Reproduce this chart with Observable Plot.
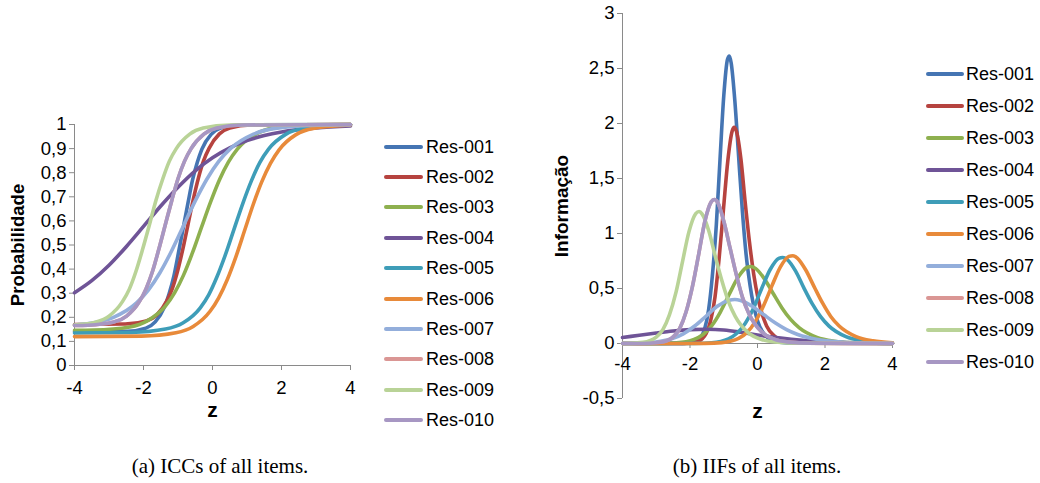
<!DOCTYPE html>
<html><head><meta charset="utf-8">
<script src="https://cdn.jsdelivr.net/npm/d3@7"></script>
<script src="https://cdn.jsdelivr.net/npm/@observablehq/plot@0.6"></script>
<style>
html,body{margin:0;padding:0;background:#fff;}
#fig{position:relative;width:1040px;height:483px;overflow:hidden;background:#fff;font-family:"Liberation Sans",Arial,sans-serif;color:#000;}
.pl{position:absolute;top:0;}
.sw{position:absolute;height:4px;border-radius:2px;}
.lt{position:absolute;font-size:18px;transform:translateY(-50%);white-space:nowrap;line-height:normal;}
.cap{position:absolute;font-family:"Liberation Serif","Times New Roman",serif;font-size:21px;transform:translate(-50%,-50%);white-space:nowrap;}
</style></head><body><div id="fig"></div>
<script>
// ---- data ----
const items = ["Res-001","Res-002","Res-003","Res-004","Res-005","Res-006","Res-007","Res-008","Res-009","Res-010"];
const colors = ["#4575B3","#B6433F","#8EB04F","#6F5497","#3E9DB8","#E88A3A","#93AEDB","#DA9694","#B9D397","#A797C3"];

const zTicks = [-4, -2, 0, 2, 4];
const zLabels = ["-4", "-2", "0", "2", "4"];
const iccYTicks = [0, 0.1, 0.2, 0.3, 0.4, 0.5, 0.6, 0.7, 0.8, 0.9, 1];
const iccYLabels = ["0", "0,1", "0,2", "0,3", "0,4", "0,5", "0,6", "0,7", "0,8", "0,9", "1"];
const iifYTicks = [-0.5, 0, 0.5, 1, 1.5, 2, 2.5, 3];
const iifYLabels = ["-0,5", "0", "0,5", "1", "1,5", "2", "2,5", "3"];

// ICC (probability) curves: z positions and probabilities
const icc001z = [-4, -2.47, -1.93, -1.66, -1.39, -1.26, -1.12, -0.99, -0.85, -0.71, -0.58, -0.44, -0.31, -0.04, 0.23, 0.77, 4];
const icc001p = [0.14, 0.142, 0.155, 0.181, 0.243, 0.297, 0.371, 0.465, 0.57, 0.675, 0.769, 0.843, 0.897, 0.959, 0.985, 0.998, 1];
const icc002z = [-4, -2.53, -1.92, -1.62, -1.32, -1.16, -1.01, -0.86, -0.71, -0.56, -0.41, -0.26, -0.10, 0.20, 0.50, 1.11, 4];
const icc002p = [0.17, 0.172, 0.185, 0.209, 0.269, 0.321, 0.393, 0.483, 0.585, 0.687, 0.777, 0.849, 0.901, 0.961, 0.985, 0.998, 1];
const icc003z = [-4, -3.44, -2.40, -1.88, -1.36, -1.10, -0.84, -0.58, -0.32, -0.06, 0.20, 0.46, 0.72, 1.24, 1.76, 2.80, 4];
const icc003p = [0.146, 0.147, 0.160, 0.186, 0.247, 0.301, 0.375, 0.468, 0.573, 0.677, 0.770, 0.844, 0.898, 0.959, 0.985, 0.998, 1];
const icc004z = [-4, -3.5, -3, -2.5, -2, -1.5, -1, -0.5, 0, 0.5, 1, 1.5, 2, 3, 4];
const icc004p = [0.302, 0.352, 0.416, 0.493, 0.577, 0.662, 0.740, 0.808, 0.862, 0.903, 0.933, 0.954, 0.969, 0.986, 0.994];
const icc005z = [-4, -2.35, -1.36, -0.86, -0.36, -0.11, 0.13, 0.38, 0.63, 0.88, 1.13, 1.37, 1.62, 2.12, 2.62, 3.61, 4];
const icc005p = [0.135, 0.137, 0.151, 0.176, 0.238, 0.293, 0.368, 0.462, 0.568, 0.673, 0.767, 0.842, 0.897, 0.959, 0.984, 0.998, 0.999];
const icc006z = [-4, -2.06, -1.06, -0.56, -0.07, 0.18, 0.43, 0.68, 0.93, 1.18, 1.43, 1.68, 1.93, 2.42, 2.92, 4];
const icc006p = [0.12, 0.122, 0.136, 0.162, 0.225, 0.281, 0.357, 0.452, 0.56, 0.668, 0.763, 0.839, 0.895, 0.958, 0.984, 0.998];
const icc007z = [-4, -3.55, -2.87, -2.20, -1.86, -1.52, -1.18, -0.84, -0.50, -0.16, 0.18, 0.52, 1.19, 1.87, 3.23, 4];
const icc007p = [0.168, 0.175, 0.200, 0.260, 0.313, 0.386, 0.477, 0.58, 0.683, 0.774, 0.847, 0.900, 0.960, 0.985, 0.998, 0.999];
const icc008z = [-4, -3.61, -2.86, -2.49, -2.12, -1.93, -1.74, -1.56, -1.37, -1.18, -1.00, -0.81, -0.62, -0.25, 0.12, 0.87, 4];
const icc008p = [0.166, 0.167, 0.180, 0.205, 0.265, 0.317, 0.390, 0.480, 0.583, 0.685, 0.775, 0.848, 0.900, 0.960, 0.985, 0.998, 1];
const icc009z = [-4, -3.78, -3.39, -3.00, -2.61, -2.41, -2.22, -2.03, -1.83, -1.64, -1.44, -1.25, -1.05, -0.66, -0.27, 0.51, 4];
const icc009p = [0.168, 0.171, 0.180, 0.205, 0.265, 0.317, 0.390, 0.480, 0.583, 0.685, 0.775, 0.848, 0.900, 0.960, 0.985, 0.998, 1];
const icc010z = [-4, -3.61, -2.86, -2.49, -2.12, -1.93, -1.74, -1.56, -1.37, -1.18, -1.00, -0.81, -0.62, -0.25, 0.12, 0.87, 4];
const icc010p = [0.166, 0.167, 0.180, 0.205, 0.265, 0.317, 0.390, 0.480, 0.583, 0.685, 0.775, 0.848, 0.900, 0.960, 0.985, 0.998, 1];

// IIF (information) curves: z positions and information values
const iif001z = [-4, -2.22, -2.00, -1.78, -1.56, -1.45, -1.34, -1.22, -1.11, -1.00, -0.89, -0.835, -0.78, -0.67, -0.56, -0.45, -0.34, -0.22, 0.00, 0.22, 0.44, 0.89, 4];
const iif001i = [0, 0.001, 0.004, 0.024, 0.140, 0.305, 0.608, 1.079, 1.677, 2.248, 2.582, 2.613, 2.550, 2.201, 1.703, 1.213, 0.816, 0.528, 0.207, 0.078, 0.029, 0.004, 0];
const iif002z = [-4, -2.29, -2.03, -1.78, -1.52, -1.39, -1.26, -1.14, -1.01, -0.88, -0.75, -0.69, -0.62, -0.49, -0.37, -0.24, -0.11, 0.02, 0.27, 0.53, 0.79, 1.30, 4];
const iif002i = [0, 0.000, 0.002, 0.016, 0.092, 0.206, 0.421, 0.765, 1.215, 1.659, 1.931, 1.965, 1.926, 1.673, 1.299, 0.928, 0.625, 0.405, 0.159, 0.060, 0.022, 0.003, 0];
const iif003z = [-4, -3.44, -2.92, -2.40, -1.88, -1.62, -1.36, -1.10, -0.84, -0.58, -0.32, -0.19, -0.06, 0.20, 0.46, 0.72, 0.98, 1.24, 1.76, 2.28, 2.80, 3.84, 4];
const iif003i = [0, 0.000, 0.001, 0.006, 0.037, 0.080, 0.160, 0.286, 0.446, 0.600, 0.691, 0.700, 0.683, 0.590, 0.457, 0.326, 0.219, 0.142, 0.056, 0.021, 0.008, 0.001, 0];
const iif004z = [-4, -3.5, -3, -2.5, -2, -1.5, -1, -0.5, 0, 0.5, 1, 1.5, 2, 2.5, 3, 3.5, 4];
const iif004i = [0.055, 0.075, 0.095, 0.113, 0.126, 0.130, 0.123, 0.103, 0.078, 0.056, 0.038, 0.024, 0.014, 0.008, 0.004, 0.002, 0.001];
const iif005z = [-4, -2.35, -1.85, -1.36, -0.86, -0.61, -0.36, -0.11, 0.13, 0.38, 0.63, 0.75, 0.88, 1.13, 1.37, 1.62, 1.87, 2.12, 2.62, 3.11, 3.61, 4];
const iif005i = [0, 0.000, 0.001, 0.007, 0.043, 0.093, 0.185, 0.326, 0.505, 0.675, 0.774, 0.782, 0.763, 0.658, 0.508, 0.362, 0.244, 0.158, 0.062, 0.023, 0.009, 0.004];
const iif006z = [-4, -2.06, -1.56, -1.06, -0.56, -0.31, -0.07, 0.18, 0.43, 0.68, 0.93, 1.05, 1.18, 1.43, 1.68, 1.93, 2.17, 2.42, 2.92, 3.42, 4];
const iif006i = [0, 0.000, 0.001, 0.008, 0.047, 0.101, 0.197, 0.344, 0.526, 0.696, 0.792, 0.798, 0.777, 0.668, 0.515, 0.366, 0.246, 0.159, 0.063, 0.024, 0.007];
const iif007z = [-4, -3.55, -2.87, -2.54, -2.20, -1.86, -1.52, -1.18, -0.84, -0.67, -0.50, -0.16, 0.18, 0.52, 0.86, 1.19, 1.87, 2.55, 3.23, 4];
const iif007i = [0.001, 0.003, 0.020, 0.043, 0.088, 0.159, 0.250, 0.340, 0.394, 0.400, 0.391, 0.339, 0.263, 0.188, 0.126, 0.082, 0.032, 0.012, 0.005, 0.001];
const iif008z = [-4, -3.61, -3.23, -2.86, -2.49, -2.30, -2.12, -1.93, -1.74, -1.56, -1.37, -1.28, -1.18, -1.00, -0.81, -0.62, -0.44, -0.25, 0.12, 0.49, 0.87, 1.61, 4];
const iif008i = [0, 0.000, 0.002, 0.011, 0.063, 0.140, 0.284, 0.515, 0.815, 1.109, 1.288, 1.309, 1.283, 1.113, 0.864, 0.617, 0.415, 0.269, 0.106, 0.040, 0.015, 0.002, 0];
const iif009z = [-4, -3.78, -3.39, -3.00, -2.80, -2.61, -2.41, -2.22, -2.03, -1.83, -1.73, -1.64, -1.44, -1.25, -1.05, -0.86, -0.66, -0.27, 0.12, 0.51, 1.29, 4];
const iif009i = [0, 0.001, 0.010, 0.058, 0.128, 0.260, 0.472, 0.747, 1.017, 1.181, 1.200, 1.176, 1.020, 0.792, 0.565, 0.381, 0.247, 0.097, 0.037, 0.014, 0.002, 0];
const iif010z = [-4, -3.61, -3.23, -2.86, -2.49, -2.30, -2.12, -1.93, -1.74, -1.56, -1.37, -1.28, -1.18, -1.00, -0.81, -0.62, -0.44, -0.25, 0.12, 0.49, 0.87, 1.61, 4];
const iif010i = [0, 0.000, 0.002, 0.011, 0.063, 0.140, 0.284, 0.515, 0.815, 1.109, 1.288, 1.309, 1.283, 1.113, 0.864, 0.617, 0.415, 0.269, 0.106, 0.040, 0.015, 0.002, 0];

const iccSeries = [[icc001z,icc001p],[icc002z,icc002p],[icc003z,icc003p],[icc004z,icc004p],[icc005z,icc005p],
                   [icc006z,icc006p],[icc007z,icc007p],[icc008z,icc008p],[icc009z,icc009p],[icc010z,icc010p]];
const iifSeries = [[iif001z,iif001i],[iif002z,iif002i],[iif003z,iif003i],[iif004z,iif004i],[iif005z,iif005i],
                   [iif006z,iif006i],[iif007z,iif007i],[iif008z,iif008i],[iif009z,iif009i],[iif010z,iif010i]];

// ---- drawing ----
const gray = "#8a8a8a";
const tickFont = 18.5;
const fig = document.getElementById("fig");
const rows = (zs, vs, item) => zs.map((z, i) => ({item, z, v: vs[i]}));
const baseStyle = {fontFamily: '"Liberation Sans", Arial, sans-serif', fontSize: "17px", color: "black", background: "transparent", overflow: "visible"};

function lineMarks(series) {
  return series.map(([zs, vs], k) => Plot.line(rows(zs, vs, items[k]), {
    x: "z", y: "v", stroke: colors[k], strokeWidth: 3.6, curve: "monotone-x",
    strokeLinejoin: "round", strokeLinecap: "round"
  }));
}

// Left: ICCs
const W1 = 360, H1 = 430, mL1 = 74, mR1 = 10, mT1 = 124, mB1 = 65;
const pxX1 = (W1 - mL1 - mR1) / 8, pxY1 = (H1 - mT1 - mB1);
const left = Plot.plot({
  width: W1, height: H1, marginLeft: mL1, marginRight: mR1, marginTop: mT1, marginBottom: mB1,
  x: {domain: [-4, 4], axis: null},
  y: {domain: [0, 1], axis: null},
  style: baseStyle,
  marks: [
    Plot.ruleY(iccYTicks, {y: d => d, x1: -4, x2: -4 - 5 / pxX1, stroke: gray}),
    Plot.ruleX(zTicks, {x: d => d, y1: 0, y2: -5 / pxY1, stroke: gray}),
    Plot.ruleX([-4], {stroke: gray}),
    Plot.ruleY([0], {stroke: gray}),
    Plot.text(iccYTicks, {x: -4, y: d => d, text: (d, i) => iccYLabels[i], textAnchor: "end", dx: -8, fontSize: tickFont}),
    Plot.text(zTicks, {x: d => d, y: 0, text: (d, i) => zLabels[i], dy: 23, fontSize: tickFont}),
    Plot.text(["z"], {x: 0, y: 0, text: d => d, dy: 45, fontWeight: "bold", fontSize: 21}),
    Plot.text(["Probabilidade"], {x: -4, y: 0.5, text: d => d, dx: -56, rotate: -90, fontWeight: "bold", fontSize: 18.5}),
    ...lineMarks(iccSeries)
  ]
});
const w1 = document.createElement("div"); w1.className = "pl"; w1.style.left = "0px"; w1.appendChild(left); fig.appendChild(w1);

// Right: IIFs
const X2 = 540, W2 = 370, H2 = 430, mL2 = 82, mR2 = 18, mT2 = 13, mB2 = 32;
const pxX2 = (W2 - mL2 - mR2) / 8, pxY2 = (H2 - mT2 - mB2) / 3.5;
const right = Plot.plot({
  width: W2, height: H2, marginLeft: mL2, marginRight: mR2, marginTop: mT2, marginBottom: mB2,
  x: {domain: [-4, 4], axis: null},
  y: {domain: [-0.5, 3], axis: null},
  style: baseStyle,
  marks: [
    Plot.ruleY(iifYTicks, {y: d => d, x1: -4, x2: -4 - 5 / pxX2, stroke: gray}),
    Plot.ruleX(zTicks, {x: d => d, y1: 0, y2: -5 / pxY2, stroke: gray}),
    Plot.ruleX([-4], {stroke: gray}),
    Plot.ruleY([0], {stroke: gray}),
    Plot.text(iifYTicks, {x: -4, y: d => d, text: (d, i) => iifYLabels[i], textAnchor: "end", dx: -8, fontSize: tickFont}),
    Plot.text(zTicks, {x: d => d, y: 0, text: (d, i) => zLabels[i], dy: 21, fontSize: tickFont}),
    Plot.text(["z"], {x: 0, y: -0.5, text: d => d, dy: 13, fontWeight: "bold", fontSize: 21}),
    Plot.text(["Informação"], {x: -4, y: 1.25, text: d => d, dx: -61, rotate: -90, fontWeight: "bold", fontSize: 19}),
    ...lineMarks(iifSeries)
  ]
});
const w2 = document.createElement("div"); w2.className = "pl"; w2.style.left = X2 + "px"; w2.appendChild(right); fig.appendChild(w2);

// Legends
function legend(x0, y0, step, swW, gap) {
  items.forEach((name, k) => {
    const y = y0 + k * step;
    const sw = document.createElement("div");
    sw.className = "sw"; sw.style.left = x0 + "px"; sw.style.top = (y - 2) + "px";
    sw.style.width = swW + "px"; sw.style.background = colors[k];
    fig.appendChild(sw);
    const t = document.createElement("div");
    t.className = "lt"; t.style.left = (x0 + swW + gap) + "px"; t.style.top = y + "px";
    t.textContent = name;
    fig.appendChild(t);
  });
}
legend(384, 146.7, 30.37, 39, 3);
legend(926, 74.3, 32.0, 38, 2);

// Captions
[["(a) ICCs of all items.", 220], ["(b) IIFs of all items.", 757]].forEach(([txt, cx]) => {
  const c = document.createElement("div");
  c.className = "cap"; c.style.left = cx + "px"; c.style.top = "466px"; c.textContent = txt;
  fig.appendChild(c);
});
</script></body></html>
